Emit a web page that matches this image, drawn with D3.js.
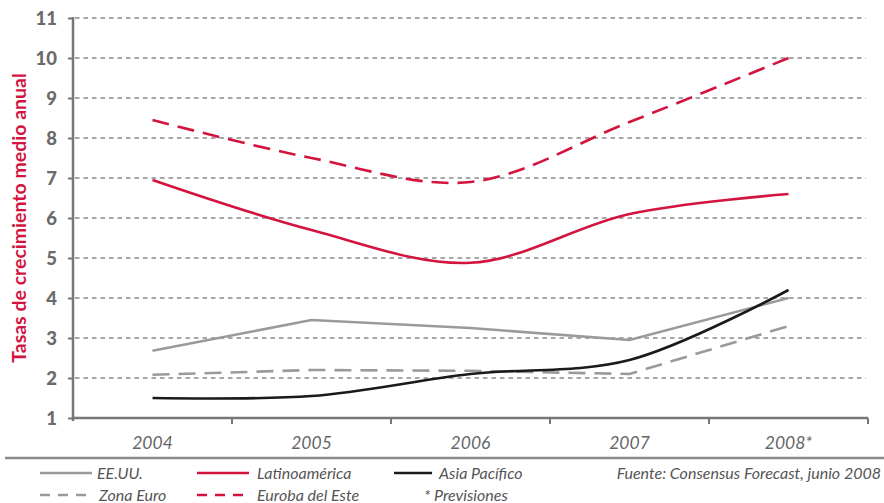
<!DOCTYPE html>
<html><head><meta charset="utf-8">
<script src="https://cdn.jsdelivr.net/npm/d3@7"></script>
<style>body{margin:0;background:#fff}svg{display:block}</style>
</head><body><svg id="c" width="884" height="503"></svg>
<script>
const categories = ["2004","2005","2006","2007","2008*"];
const eeuu = [2.68, 3.45, 3.25, 2.95, 4.0];
const zonaEuro = [2.08, 2.2, 2.18, 2.1, 3.3];
const asiaPacifico = [1.5, 1.55, 2.1, 2.45, 4.2];
const latinoamerica = [6.95, 5.7, 4.88, 6.1, 6.6];
const europaEste = [8.45, 7.5, 6.9, 8.4, 10.0];
const yTicks = [1,2,3,4,5,6,7,8,9,10,11];

const RED = "#d2143f", GRAY = "#9a9a9a", BLACK = "#1a1a1a";
const series = [
  {name:"EE.UU.", values:eeuu, color:GRAY, dash:null, curve:d3.curveLinear},
  {name:"Zona Euro", values:zonaEuro, color:GRAY, dash:"17,9", curve:d3.curveLinear},
  {name:"Asia Pacífico", values:asiaPacifico, color:BLACK, dash:null, curve:d3.curveCatmullRom},
  {name:"Latinoamérica", values:latinoamerica, color:RED, dash:null, curve:d3.curveCatmullRom},
  {name:"Euroba del Este", values:europaEste, color:RED, dash:"17,9", curve:d3.curveCatmullRom}
];

const svg = d3.select("#c");
const x = d3.scaleBand().domain(categories).range([73, 868]);
const y = d3.scaleLinear().domain([1, 11]).range([418, 18]);

// grid
svg.append("g").selectAll("line").data(yTicks.slice(1)).join("line")
  .attr("x1", 75).attr("x2", 866).attr("y1", d=>y(d)).attr("y2", d=>y(d))
  .attr("stroke", "#8a8a8a").attr("stroke-width", 1.3).attr("stroke-dasharray", "4.5,4");

// lines
series.forEach(s => {
  const line = d3.line().x((d,i)=>x(categories[i]) + x.bandwidth()/2).y(d=>y(d)).curve(s.curve);
  svg.append("path").datum(s.values).attr("d", line)
    .attr("fill","none").attr("stroke", s.color).attr("stroke-width", 2.6)
    .attr("stroke-dasharray", s.dash);
});

// y axis
const yAxis = svg.append("g").attr("transform","translate(73,0)")
  .call(d3.axisLeft(y).tickValues(yTicks).tickSize(5).tickPadding(11));
yAxis.select(".domain").attr("stroke","#777").attr("stroke-width",2.5).attr("d","M0,17V421");
yAxis.selectAll(".tick line").attr("stroke","#777").attr("stroke-width",2);
yAxis.selectAll(".tick text").attr("fill","#6a6a6a").attr("font-family","Lato, sans-serif")
  .attr("font-weight","900").attr("font-size",18.5).attr("dy","0.35em");

// x axis
const xAxis = svg.append("g").attr("transform","translate(0,418)")
  .call(d3.axisBottom(x).tickSize(0).tickPadding(19));
xAxis.select(".domain").attr("stroke","#777").attr("stroke-width",2.5).attr("d","M72,0H868");
xAxis.selectAll(".tick text").attr("fill","#666").attr("font-family","Lato, sans-serif")
  .attr("font-style","italic").attr("font-size",17.5);
svg.append("g").selectAll("line").data(categories).join("line")
  .attr("x1", d=>x(d)+x.bandwidth()).attr("x2", d=>x(d)+x.bandwidth())
  .attr("y1", 418).attr("y2", 424).attr("stroke","#777").attr("stroke-width",2);

// y title
svg.append("text").attr("transform","translate(26,218) rotate(-90)")
  .attr("text-anchor","middle").attr("fill",RED).attr("font-family","Lato, sans-serif")
  .attr("font-weight","bold").attr("font-size",19.5).text("Tasas de crecimiento medio anual");

// separator
svg.append("line").attr("x1",5).attr("x2",884).attr("y1",458).attr("y2",458)
  .attr("stroke","#8a8a8a").attr("stroke-width",2.5);

// legend
const legend = [
  {s:series[0], lx:40, tx:97, ty:473},
  {s:series[3], lx:197, tx:257, ty:473},
  {s:series[2], lx:394, lw:38, tx:439, ty:473},
  {s:series[1], lx:40, tx:99, ty:495},
  {s:series[4], lx:197, tx:257, ty:495}
];
const lg = svg.append("g").attr("font-family","Lato, sans-serif").attr("font-style","italic")
  .attr("font-size",16).attr("fill","#555");
legend.forEach(l => {
  lg.append("line").attr("x1",l.lx).attr("x2",l.lx+(l.lw||52)).attr("y1",l.ty).attr("y2",l.ty)
    .attr("stroke",l.s.color).attr("stroke-width",2.6).attr("stroke-dasharray", l.s.dash ? "10,8" : null);
  lg.append("text").attr("x",l.tx).attr("y",l.ty).attr("dy","0.35em").text(l.s.name);
});
lg.append("text").attr("x",424).attr("y",495).attr("dy","0.35em").text("* Previsiones");
lg.append("text").attr("x",881).attr("y",473).attr("dy","0.35em").attr("text-anchor","end")
  .text("Fuente: Consensus Forecast, junio 2008");
</script></body></html>
